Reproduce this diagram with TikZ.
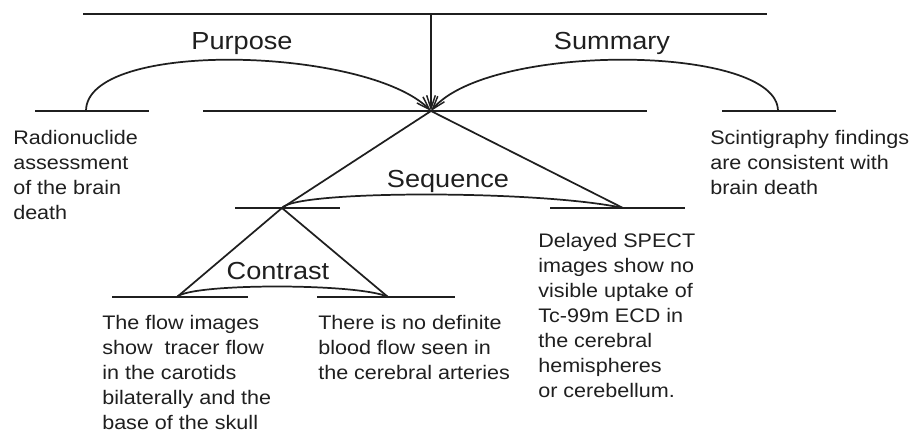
\documentclass[tikz,border=0pt]{standalone}
\usepackage{fontspec}
\setmainfont[FakeStretch=1.1]{Liberation Sans}
\usetikzlibrary{arrows.meta}
\begin{document}
\begin{tikzpicture}[x=0.75pt,y=-0.75pt,
  rel/.style={line width=1.3pt,draw=black!88},
  arr/.style={rel,-{Straight Barb[length=10pt,width=6.5pt,line width=1.1pt]}},
  unit/.style={inner sep=0pt,anchor=north west,align=left,text=black!88,
    font=\fontsize{14.7}{18.75}\selectfont},
  relname/.style={inner sep=0pt,anchor=base,text=black!88,
    font=\fontsize{18.5}{22}\selectfont}]
\useasboundingbox (0,0) rectangle (913,435);

% horizontal bars
\coordinate (topL) at (83,14);   \coordinate (topR) at (767,14);
\coordinate (top)  at (431,14);
\coordinate (nucL) at (203,111); \coordinate (nucR) at (647,111);
\coordinate (nuc)  at (431,111);
\coordinate (purL) at (35,111);  \coordinate (purR) at (149,111);
\coordinate (pur)  at (86,111);
\coordinate (sumL) at (722,111); \coordinate (sumR) at (836,111);
\coordinate (sum)  at (778,111);
\coordinate (seqAL) at (235,208); \coordinate (seqAR) at (340,208);
\coordinate (seqA)  at (282,208);
\coordinate (seqBL) at (550,208); \coordinate (seqBR) at (685,208);
\coordinate (seqB)  at (623,208);
\coordinate (conAL) at (112,297); \coordinate (conAR) at (248,297);
\coordinate (conA)  at (177,297);
\coordinate (conBL) at (317,297); \coordinate (conBR) at (455,297);
\coordinate (conB)  at (388,297);

\draw[rel] (topL) -- (topR);
\draw[rel] (nucL) -- (nucR);
\draw[rel] (purL) -- (purR);
\draw[rel] (sumL) -- (sumR);
\draw[rel] (seqAL) -- (seqAR);
\draw[rel] (seqBL) -- (seqBR);
\draw[rel] (conAL) -- (conAR);
\draw[rel] (conBL) -- (conBR);

% arrows into the nucleus
\draw[arr] (top) -- (nuc);
\draw[arr] (pur) .. controls (86,39) and (367,47) .. (nuc);
\draw[arr] (sum) .. controls (778,44) and (489,42) .. (nuc);

% multinuclear branches
\draw[rel] (nuc) -- (seqA);
\draw[rel] (nuc) -- (seqB);
\draw[rel] (seqA) -- (conA);
\draw[rel] (seqA) -- (conB);
\draw[rel] (seqA) .. controls (295,190) and (540,190) .. (seqB);
\draw[rel] (conA) .. controls (190,283) and (360,283) .. (conB);

% relation names
\node[relname] (lpur) at (242,50) {Purpose};
\node[relname] (lsum) at (612,50) {Summary};
\node[relname] (lseq) at (448,187) {Sequence};
\node[relname] (lcon) at (278,279) {Contrast};

% text units
\node[unit] (t1) at (13,130) {Radionuclide\\assessment\\of the brain\\death};
\node[unit] (t2) at (710,130) {Scintigraphy findings\\are consistent with\\brain death};
\node[unit] (t3) at (102,315) {The flow images\\show\ \ tracer flow\\in the carotids\\bilaterally and the\\base of the skull};
\node[unit] (t4) at (318,315) {There is no definite\\blood flow seen in\\the cerebral arteries};
\node[unit] (t5) at (538,233) {Delayed SPECT\\images show no\\visible uptake of\\Tc-99m ECD in\\the cerebral\\hemispheres\\or cerebellum.};
\end{tikzpicture}
\end{document}
